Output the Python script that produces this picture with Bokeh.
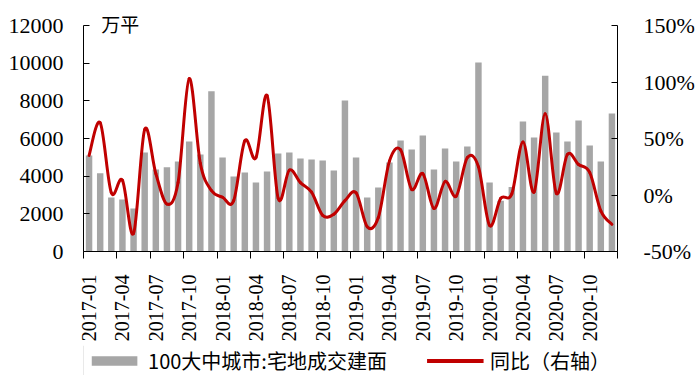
import numpy as np
from bokeh.plotting import figure
from bokeh.layouts import column
from bokeh.models import (Range1d, LinearAxis, FixedTicker, NumeralTickFormatter,
                          Legend, LegendItem, Label)
from bokeh.embed import file_html
from bokeh.resources import INLINE

# ---------------- data ----------------
months = [f"{y}-{m:02d}" for y in range(2017, 2021) for m in range(1, 13)]

# 100大中城市:宅地成交建面 (万平)
area = [5100, 4150, 2870, 2760, 2280, 5260, 4350, 4480, 4780, 5840, 5150, 8510,
        4990, 3980, 4200, 3660, 4250, 5200, 5260, 4940, 4890, 4830, 4300, 8020,
        4990, 2870, 3400, 4730, 5890, 5420, 6160, 4350, 5470, 4780, 5580, 10030,
        3660, 2700, 3420, 6900, 6050, 9330, 6320, 5840, 6960, 5630, 4780, 7330]

# 同比 (%)
yoy = [35, 64, 2, 13, -34, 58, 19, -8, 11, 103, 28, 4,
       -2, -5, 48, 33, 88, -3, 22, 11, 2.5, -18, -17, -5,
       2, -28, -20, 30, 40, 5, 19, -12, 12, -1, 33, 25,
       -27, -3, 1, 47, 2.5, 72, 1.6, 36, 27, 20, -14, -26]

tick_labels = ["2017-01", "2017-04", "2017-07", "2017-10",
               "2018-01", "2018-04", "2018-07", "2018-10",
               "2019-01", "2019-04", "2019-07", "2019-10",
               "2020-01", "2020-04", "2020-07", "2020-10"]
left_ticks = [0, 2000, 4000, 6000, 8000, 10000, 12000]
right_ticks = [-0.5, 0, 0.5, 1.0, 1.5]
left_lim = (0, 12000)
right_lim = (-0.5, 1.5)

BAR_COLOR = "#A6A6A6"
LINE_COLOR = "#C00000"
FONT_NUM = "Liberation Serif"
FONT_CJK = "Noto Sans CJK SC"

# ---------------- geometry ----------------
AXIS_H = 226          # pixel height of the axis span
HEAD = 20             # extra frame room above the axes for the unit label
frac = (AXIS_H + HEAD) / AXIS_H
left_top = left_lim[0] + (left_lim[1] - left_lim[0]) * frac
right_top = right_lim[0] + (right_lim[1] - right_lim[0]) * frac

# ---------------- main figure ----------------
n = len(months)
xs = list(range(n))

p = figure(frame_width=534, frame_height=AXIS_H + HEAD, output_backend="svg",
           toolbar_location=None,
           x_range=Range1d(-0.5, n - 0.5), y_range=Range1d(left_lim[0], left_top),
           min_border_left=83, min_border_right=75, min_border_top=5,
           min_border_bottom=94)
p.extra_y_ranges = {"pct": Range1d(right_lim[0], right_top)}
p.grid.visible = False
p.outline_line_color = None
p.background_fill_color = "white"
p.border_fill_color = "white"

bars = p.vbar(x=xs, top=area, width=0.58, fill_color=BAR_COLOR, line_color=None)

# smooth line as bezier segments derived from the data (Catmull-Rom style)
yv = [v / 100.0 for v in yoy]
def pt(i):
    i = max(0, min(n - 1, i))
    return xs[i], yv[i]
bx0, by0, bx1, by1, bcx0, bcy0, bcx1, bcy1 = ([] for _ in range(8))
for i in range(n - 1):
    xa, ya = pt(i); xb, yb = pt(i + 1); xp, yp = pt(i - 1); xn, yn = pt(i + 2)
    bx0.append(xa); by0.append(ya); bx1.append(xb); by1.append(yb)
    bcx0.append(xa + (xb - xp) / 6.0); bcy0.append(ya + (yb - yp) / 6.0)
    bcx1.append(xb - (xn - xa) / 6.0); bcy1.append(yb - (yn - ya) / 6.0)
p.bezier(x0=bx0, y0=by0, x1=bx1, y1=by1, cx0=bcx0, cy0=bcy0, cx1=bcx1, cy1=bcy1,
         y_range_name="pct", line_color=LINE_COLOR, line_width=3, line_cap="round")

# unit label
p.add_layout(Label(x=1.1, y=left_lim[1] * (1 + 2.5 / AXIS_H), text="万平",
                   text_font=FONT_CJK, text_font_size="19px",
                   text_baseline="middle", text_color="black"))

# left axis
yax = p.yaxis[0]
yax.bounds = left_lim
yax.ticker = FixedTicker(ticks=left_ticks)
yax.major_tick_in = 6
yax.major_tick_out = 0
yax.minor_tick_in = 0
yax.minor_tick_out = 0
yax.major_label_standoff = 20
yax.major_label_text_font = FONT_NUM
yax.major_label_text_font_size = "22px"
yax.major_label_text_color = "black"
yax.axis_line_color = "black"
yax.major_tick_line_color = "black"

# right axis
rax = LinearAxis(y_range_name="pct", ticker=FixedTicker(ticks=right_ticks),
                 formatter=NumeralTickFormatter(format="0%"), bounds=right_lim)
rax.major_tick_in = 6
rax.major_tick_out = 0
rax.minor_tick_in = 0
rax.minor_tick_out = 0
rax.major_label_standoff = 26
rax.major_label_text_font = FONT_NUM
rax.major_label_text_font_size = "22px"
rax.major_label_text_color = "black"
rax.axis_line_color = "black"
rax.major_tick_line_color = "black"
p.add_layout(rax, "right")

# bottom axis
xax = p.xaxis[0]
label_pos = [3 * k for k in range(len(tick_labels))]
bounds = [-0.5 + 3 * k for k in range(n // 3 + 1)]
xax.ticker = FixedTicker(ticks=label_pos, minor_ticks=bounds)
xax.major_label_overrides = {pos: lab for pos, lab in zip(label_pos, tick_labels)}
xax.major_tick_in = 0
xax.major_tick_out = 0
xax.minor_tick_in = 0
xax.minor_tick_out = 7
xax.minor_tick_line_color = "black"
xax.major_label_orientation = np.pi / 2
xax.major_label_standoff = 16
xax.major_label_text_font = FONT_NUM
xax.major_label_text_font_size = "20px"
xax.major_label_text_color = "black"
xax.axis_line_color = "black"

# ---------------- legend strip ----------------
lg = figure(width=692, height=30, output_backend="svg", toolbar_location=None,
            x_range=Range1d(0, 1), y_range=Range1d(0, 1),
            x_axis_type=None, y_axis_type=None,
            min_border_left=0, min_border_right=0, min_border_top=0, min_border_bottom=0)
lg.grid.visible = False
lg.outline_line_color = None
lg.background_fill_color = "white"
lg.border_fill_color = "white"
proxy_bar = lg.vbar(x=[-5], top=[1], width=0.5, fill_color=BAR_COLOR, line_color=None)
proxy_line = lg.line(x=[-5, -4], y=[0.5, 0.5], line_color=LINE_COLOR, line_width=4)
legend = Legend(items=[LegendItem(label="100大中城市:宅地成交建面", renderers=[proxy_bar]),
                       LegendItem(label="同比（右轴）", renderers=[proxy_line])],
                orientation="horizontal", location="center",
                glyph_width=57, glyph_height=12, label_standoff=6, spacing=40,
                padding=0, margin=0, border_line_color=None,
                background_fill_alpha=0,
                label_text_font=FONT_CJK,
                label_text_font_size="20px", label_text_color="black")
lg.add_layout(legend)

layout = column(p, lg, spacing=0)
open("out.html", "w").write(file_html(layout, INLINE))
